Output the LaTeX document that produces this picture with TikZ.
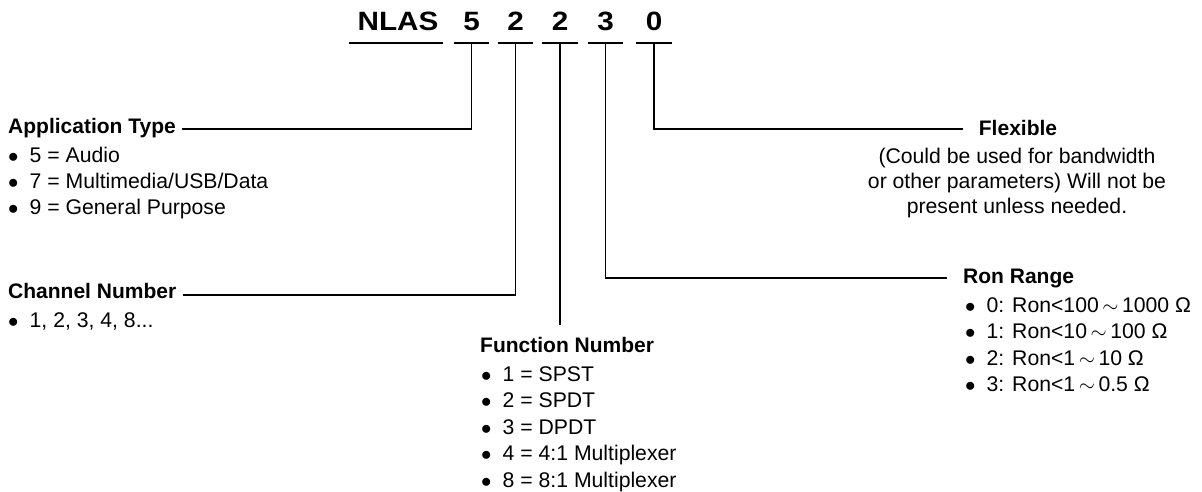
\documentclass[tikz,border=0pt]{standalone}
\usepackage{fontspec}
\setmainfont{Liberation Sans}
\newcommand{\bul}{\makebox[21.5pt][l]{$\bullet$}}
\begin{document}
\begin{tikzpicture}[x=1pt,y=-1pt,
  ln/.style={line width=1.9pt},
  hd/.style={font=\bfseries\fontsize{21}{24}\selectfont, inner sep=0pt},
  itm/.style={font=\fontsize{21.2}{24}\selectfont, inner sep=0pt, anchor=base west},
  body/.style={font=\fontsize{21.2}{24}\selectfont, inner sep=0pt, anchor=base},
  ttl/.style={font=\bfseries\fontsize{26.5}{30}\selectfont, inner sep=0pt, anchor=base}]
\useasboundingbox (0,0) rectangle (1202,491);

% title
\node[ttl] (nlas) at (398,30.5) {\scalebox{1.12}[1]{NLAS}};
\node[ttl] (d1) at (471.5,30.5) {\scalebox{1.12}[1]{5}};
\node[ttl] (d2) at (515.5,30.5) {\scalebox{1.12}[1]{2}};
\node[ttl] (d3) at (560,30.5) {\scalebox{1.12}[1]{2}};
\node[ttl] (d4) at (605.5,30.5) {\scalebox{1.12}[1]{3}};
\node[ttl] (d5) at (654,30.5) {\scalebox{1.12}[1]{0}};

\coordinate (u0) at (396,43);
\coordinate (u1) at (471.5,43);
\coordinate (u2) at (515.5,43);
\coordinate (u3) at (560,43);
\coordinate (u4) at (605.5,43);
\coordinate (u5) at (654,43);
\draw[ln] ([xshift=-47pt]u0) -- ([xshift=47pt]u0);
\foreach \k in {1,...,5}
  \draw[ln] ([xshift=-17.75pt]u\k) -- ([xshift=17.75pt]u\k);

% headers
\node[hd, anchor=base west] (app) at (8,133) {Application Type};
\node[hd, anchor=base west] (chan) at (8,298) {Channel Number};
\node[hd, anchor=base west] (fun) at (480,352) {Function Number};
\node[hd, anchor=base west] (ron) at (963,283) {Ron Range};
\node[hd, anchor=base] (flex) at (1018,135) {Flexible};

% items
\foreach \t [count=\i] in {5 = Audio, 7 = Multimedia/USB/Data, 9 = General Purpose}
  \node[itm] (app-\i) at (8,136+26*\i) {\bul\t};
\node[itm] (chan-1) at (8,327) {\bul 1, 2, 3, 4, 8...};
\foreach \t [count=\i] in {1 = SPST, 2 = SPDT, 3 = DPDT, 4 = 4:1 Multiplexer, 8 = 8:1 Multiplexer}
  \node[itm] (fun-\i) at (481,354.5+26.6*\i) {\bul\t};
\node[itm] (ron-1) at (965,312) {\bul 0: Ron<100\,$\sim$\,1000 Ω};
\node[itm] (ron-2) at (965,338.5) {\bul 1: Ron<10\,$\sim$\,100 Ω};
\node[itm] (ron-3) at (965,365) {\bul 2: Ron<1\,$\sim$\,10 Ω};
\node[itm] (ron-4) at (965,391.5) {\bul 3: Ron<1\,$\sim$\,0.5 Ω};
\node[body] (flex-1) at (1017,163) {(Could be used for bandwidth};
\node[body] (flex-2) at (1017,188) {or other parameters) Will not be};
\node[body] (flex-3) at (1017,213) {present unless needed.};

% connectors
\coordinate (fend) at ([yshift=12pt]fun.north);
\draw[ln] (u1) |- ([xshift=6pt,yshift=1pt]app.mid east);
\draw[ln] (u2) |- ([xshift=7pt]chan.mid east);
\draw[ln] (u3) -- (u3 |- fend);
\draw[ln] (u4) |- ([xshift=-16pt,yshift=2pt]ron.mid west);
\draw[ln] (u5) |- ([xshift=-16pt,yshift=3pt]flex.mid west);
\end{tikzpicture}
\end{document}
